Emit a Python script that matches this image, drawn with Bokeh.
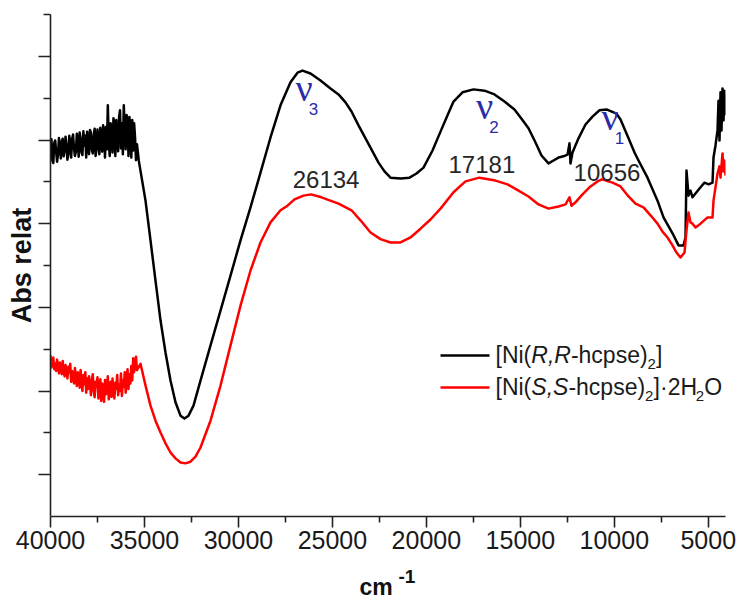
from bokeh.plotting import figure
from bokeh.models import Range1d, FixedTicker, Label, CustomJSTickFormatter
from bokeh.embed import file_html
from bokeh.resources import INLINE

# ---------------- data: electronic spectra (wavenumber / cm-1, relative absorbance) ----------------
black_wn = [40000, 39950, 39900, 39850, 39800, 39750, 39700, 39650, 39600, 39550,
            39500, 39450, 39400, 39350, 39300, 39250, 39200, 39150, 39100, 39050,
            39000, 38950, 38900, 38850, 38800, 38750, 38700, 38650, 38600, 38550,
            38500, 38450, 38400, 38350, 38300, 38250, 38200, 38150, 38100, 38050,
            38000, 37950, 37900, 37850, 37800, 37750, 37700, 37650, 37600, 37550,
            37500, 37450, 37400, 37350, 37300, 37250, 37200, 37150, 37100, 37050,
            37000, 36950, 36900, 36850, 36800, 36750, 36700, 36650, 36600, 36550,
            36500, 36450, 36400, 36350, 36300, 36250, 36200, 36150, 36100, 36050,
            36000, 35950, 35900, 35850, 35800, 35750, 35700, 35650, 35600, 35550,
            35500, 35450, 35400,
            35300, 34945, 34679, 34413, 34147, 33881, 33615, 33349, 33083, 32870,
            32657, 32391, 32019, 31486, 30954, 30422, 29890, 29358, 28826, 28294,
            27762, 27230, 26857, 26591, 26165, 25633, 25101, 24675, 24303, 23984,
            23611, 23239, 22867, 22547, 22228, 21909, 21377, 20897, 20525, 20152,
            19673, 19248, 18875, 18556, 18077, 17492, 16907, 16375, 15843, 15311,
            14938, 14566, 14193, 13874, 13502, 13236, 12970, 12704, 12491, 12385,
            12331, 12225, 11905, 11533, 11161, 10788, 10416, 9884, 9670, 9244,
            8925, 8713, 8234, 7702, 7382, 6903, 6584, 6318, 6212, 6159,
            6052, 5946, 5839, 5680, 5413, 5200, 4988, 4775, 4722, 4616,
            4509, 4456, 4403, 4349, 4296, 4243, 4190, 4137, 4084]
black_abs = [0.880, 0.902, 0.851, 0.845, 0.893, 0.899, 0.872, 0.848, 0.866, 0.905,
             0.884, 0.856, 0.897, 0.903, 0.861, 0.874, 0.908, 0.888, 0.853, 0.866,
             0.910, 0.895, 0.858, 0.902, 0.913, 0.880, 0.862, 0.872, 0.915, 0.897,
             0.860, 0.918, 0.905, 0.870, 0.864, 0.921, 0.886, 0.910, 0.858, 0.920,
             0.895, 0.866, 0.924, 0.918, 0.876, 0.868, 0.912, 0.927, 0.862, 0.890,
             0.925, 0.880, 0.866, 0.929, 0.904, 0.872, 0.935, 0.920, 0.858, 0.931,
             0.878, 0.983, 0.900, 0.862, 0.940, 0.915, 0.870, 0.952, 0.938, 0.862,
             0.948, 0.905, 0.873, 0.955, 0.971, 0.880, 0.940, 0.866, 0.983, 0.925,
             0.878, 0.960, 0.945, 0.862, 0.955, 0.930, 0.858, 0.948, 0.875, 0.940,
             0.905, 0.852, 0.890,
             0.850, 0.755, 0.660, 0.564, 0.469, 0.392, 0.325, 0.273, 0.241, 0.234,
             0.241, 0.265, 0.325, 0.409, 0.492, 0.576, 0.660, 0.739, 0.822, 0.906,
             0.983, 1.038, 1.061, 1.066, 1.059, 1.042, 1.023, 1.009, 0.990, 0.968,
             0.935, 0.904, 0.873, 0.846, 0.825, 0.810, 0.808, 0.810, 0.820, 0.834,
             0.875, 0.920, 0.959, 0.992, 1.014, 1.021, 1.018, 1.009, 0.992, 0.973,
             0.951, 0.928, 0.894, 0.863, 0.844, 0.851, 0.858, 0.861, 0.865, 0.892,
             0.844, 0.870, 0.904, 0.937, 0.956, 0.971, 0.973, 0.963, 0.949, 0.904,
             0.870, 0.851, 0.810, 0.755, 0.715, 0.677, 0.648, 0.648, 0.667, 0.827,
             0.767, 0.779, 0.763, 0.772, 0.787, 0.798, 0.794, 0.798, 0.858, 0.887,
             0.923, 0.994, 0.899, 1.014, 0.923, 1.023, 0.947, 1.018, 0.959]

red_wn = [40000, 39950, 39900, 39850, 39800, 39750, 39700, 39650, 39600, 39550,
          39500, 39450, 39400, 39350, 39300, 39250, 39200, 39150, 39100, 39050,
          39000, 38950, 38900, 38850, 38800, 38750, 38700, 38650, 38600, 38550,
          38500, 38450, 38400, 38350, 38300, 38250, 38200, 38150, 38100, 38050,
          38000, 37950, 37900, 37850, 37800, 37750, 37700, 37650, 37600, 37550,
          37500, 37450, 37400, 37350, 37300, 37250, 37200, 37150, 37100, 37050,
          37000, 36950, 36900, 36850, 36800, 36750, 36700, 36650, 36600, 36550,
          36500, 36450, 36400, 36350, 36300, 36250, 36200, 36150, 36100, 36050,
          36000, 35950, 35900, 35850, 35800, 35750, 35700, 35650, 35600, 35550,
          35500, 35450, 35400,
          35211, 34945, 34679, 34413, 34147, 33881, 33615, 33349, 33083, 32817,
          32551, 32285, 32019, 31486, 30954, 30422, 29890, 29358, 28826, 28294,
          27762, 27389, 27017, 26538, 26134, 25580, 24675, 23984, 23505, 22973,
          22441, 21909, 21377, 20844, 20312, 19780, 19248, 18556, 17918, 17181,
          16322, 15683, 15098, 14566, 14034, 13502, 12970, 12598, 12385, 12278,
          12065, 11693, 11267, 10894, 10656, 10097, 9670, 9244, 8872, 8446,
          8074, 7702, 7435, 7169, 6903, 6691, 6478, 6265, 6159, 6052,
          5946, 5839, 5680, 5413, 5041, 4775, 4722, 4563, 4509, 4403,
          4349, 4243, 4190, 4137, 4084]
red_abs = [0.385, 0.356, 0.372, 0.380, 0.352, 0.366, 0.348, 0.375, 0.360, 0.342,
           0.368, 0.355, 0.340, 0.372, 0.346, 0.335, 0.362, 0.350, 0.330, 0.358,
           0.344, 0.365, 0.322, 0.348, 0.338, 0.318, 0.355, 0.330, 0.312, 0.345,
           0.336, 0.308, 0.350, 0.322, 0.300, 0.338, 0.316, 0.345, 0.296, 0.330,
           0.305, 0.335, 0.318, 0.290, 0.326, 0.340, 0.300, 0.285, 0.322, 0.310,
           0.333, 0.282, 0.305, 0.328, 0.276, 0.318, 0.300, 0.274, 0.326, 0.292,
           0.312, 0.335, 0.280, 0.302, 0.322, 0.286, 0.330, 0.296, 0.282, 0.320,
           0.305, 0.338, 0.290, 0.315, 0.300, 0.342, 0.288, 0.325, 0.310, 0.345,
           0.296, 0.330, 0.352, 0.305, 0.340, 0.318, 0.360, 0.325, 0.378, 0.345,
           0.365, 0.382, 0.350,
           0.365, 0.313, 0.265, 0.229, 0.201, 0.175, 0.153, 0.139, 0.129, 0.127,
           0.131, 0.143, 0.165, 0.229, 0.313, 0.409, 0.504, 0.588, 0.655, 0.703,
           0.732, 0.743, 0.758, 0.767, 0.770, 0.763, 0.748, 0.732, 0.708, 0.679,
           0.663, 0.655, 0.655, 0.667, 0.688, 0.710, 0.736, 0.775, 0.801, 0.810,
           0.803, 0.794, 0.779, 0.765, 0.746, 0.736, 0.741, 0.746, 0.763, 0.743,
           0.751, 0.770, 0.789, 0.801, 0.806, 0.798, 0.789, 0.765, 0.748, 0.739,
           0.720, 0.700, 0.681, 0.667, 0.648, 0.631, 0.619, 0.631, 0.684, 0.727,
           0.703, 0.700, 0.691, 0.700, 0.715, 0.715, 0.755, 0.803, 0.820, 0.837,
           0.810, 0.868, 0.825, 0.851, 0.815]

# band maxima of the hydrated complex, cm-1
peak_wn = [26134, 17181, 10656]
peak_labels = ["26134", "17181", "10656"]

x_major = [40000, 35000, 30000, 25000, 20000, 15000, 10000, 5000]
x_minor = [37500, 32500, 27500, 22500, 17500, 12500, 7500]
y_major = [0.1, 0.3, 0.5, 0.7, 0.9, 1.1]
y_minor = [0.2, 0.4, 0.6, 0.8, 1.0, 1.2]

# ---------------- figure ----------------
X0, X1 = 40000, 4084
Y0, Y1 = 0.0, 1.2
FL, FR, FT, FB = 50, 725, 14, 516   # frame edges in page pixels

p = figure(width=745, height=599, output_backend="svg", toolbar_location=None,
           x_range=Range1d(X0, X1), y_range=Range1d(Y0, Y1),
           min_border_left=FL, min_border_right=745 - FR,
           min_border_top=FT, min_border_bottom=599 - FB)
p.outline_line_color = None
p.grid.visible = False
p.background_fill_color = "white"
p.border_fill_color = "white"

YPX = (Y1 - Y0) / (FB - FT)   # data units per pixel on y
LIFT = 0.35                   # label anchor lies this many em above the drawn baseline


def at(px, py):
    """Page-pixel position -> data coordinates of this frame."""
    x = X0 + (px - FL) * (X1 - X0) / (FR - FL)
    y = Y0 + (FB - py) * YPX
    return x, y


p.line(black_wn, black_abs, line_color="black", line_width=2.5, line_join="round")
p.line(red_wn, red_abs, line_color="#ff0000", line_width=2.5, line_join="round")

axis_col = "#222222"
xa = p.xaxis[0]
xa.ticker = FixedTicker(ticks=x_major, minor_ticks=x_minor)
xa.axis_line_color = axis_col
xa.axis_line_width = 1.6
xa.major_tick_line_color = axis_col
xa.major_tick_line_width = 1.6
xa.minor_tick_line_color = axis_col
xa.minor_tick_line_width = 1.6
xa.major_tick_out = 11
xa.major_tick_in = 0
xa.minor_tick_out = 6
xa.minor_tick_in = 0
xa.major_label_text_font = "Liberation Sans"
xa.major_label_text_font_size = "25px"
xa.major_label_text_color = "#1a1a1a"
xa.major_label_standoff = 3

ya = p.yaxis[0]
ya.ticker = FixedTicker(ticks=y_major, minor_ticks=y_minor)
ya.formatter = CustomJSTickFormatter(code="return '';")
ya.axis_line_color = axis_col
ya.axis_line_width = 1.6
ya.major_tick_line_color = axis_col
ya.major_tick_line_width = 1.6
ya.minor_tick_line_color = axis_col
ya.minor_tick_line_width = 1.6
ya.major_tick_out = 12
ya.major_tick_in = 0
ya.minor_tick_out = 7
ya.minor_tick_in = 0
ya.major_label_text_font_size = "1px"
ya.major_label_standoff = 0
ya.axis_label = "Abs relat"
ya.axis_label_text_font = "Liberation Sans"
ya.axis_label_text_font_style = "bold"
ya.axis_label_text_font_size = "27px"
ya.axis_label_text_color = "#111111"
ya.axis_label_standoff = 2


def make_text(px, py, s, size, font="Liberation Sans", color="#1a1a1a", style="normal",
              align="left"):
    """Text whose baseline sits at page pixel row py."""
    x, y = at(px, py - LIFT * size)
    return Label(x=x, y=y, text=s, text_font=font, text_font_size=f"{size}px",
                 text_color=color, text_font_style=style, text_align=align,
                 text_baseline="alphabetic")


# x title "cm-1": the pieces sit in side panels so the frame does not cut them
p.add_layout(make_text(359, 595, "cm", 23, color="#111111", style="bold"), "below")
p.add_layout(make_text(398, 583, "-1", 19, color="#111111", style="bold"), "right")

# band assignments nu3, nu2, nu1
nu_col = "#2b2ba8"
for cx, base, sub in [(303.5, 101, "3"), (484, 119, "2"), (609.5, 130, "1")]:
    p.add_layout(make_text(cx, base, "\u03bd", 38, font="Liberation Serif",
                           color=nu_col, align="center"))
    p.add_layout(make_text(cx + 9.5, base + 13, sub, 17, color=nu_col, align="center"))

# band maxima labels, placed from the red curve's maxima
for wn, lab, dx, dy in zip(peak_wn, peak_labels, [15, 2.5, 5], [6, 5, -1.5]):
    val = red_abs[red_wn.index(wn)]
    p.add_layout(Label(x=wn, y=val + (dy + LIFT * 24) * YPX, x_offset=dx, text=lab,
                       text_font="Liberation Sans", text_font_size="24px",
                       text_color="#262626", text_align="center",
                       text_baseline="alphabetic"))

# legend
LX = 440   # left end of the legend sample lines
for py, col in [(355, "black"), (387, "#ff0000")]:
    xa0, yy = at(LX, py)
    xa1, _ = at(LX + 49, py)
    p.segment(x0=[xa0], y0=[yy], x1=[xa1], y1=[yy], line_color=col, line_width=2.6)

T = LX + 55
runs1 = [(0, 0, "[Ni(", 23, "normal"), (35.8, 0, "R,R", 23, "italic"),
         (75.4, 0, "-hcpse)", 23, "normal"), (152.1, 6, "2", 15, "normal"),
         (160.6, 0, "]", 23, "normal")]
runs2 = [(0, 0, "[Ni(", 23, "normal"), (35.8, 0, "S,S", 23, "italic"),
         (72.9, 0, "-hcpse)", 23, "normal"), (149.6, 6, "2", 15, "normal"),
         (158.1, 0, "]\u00b72H", 23, "normal"), (200.3, 6, "2", 15, "normal"),
         (208.8, 0, "O", 23, "normal")]
for base, runs in [(363, runs1), (395, runs2)]:
    for dx, dy, s, size, style in runs:
        p.add_layout(make_text(T + dx, base + dy, s, size, style=style))

open("out.html", "w").write(file_html(p, INLINE))
